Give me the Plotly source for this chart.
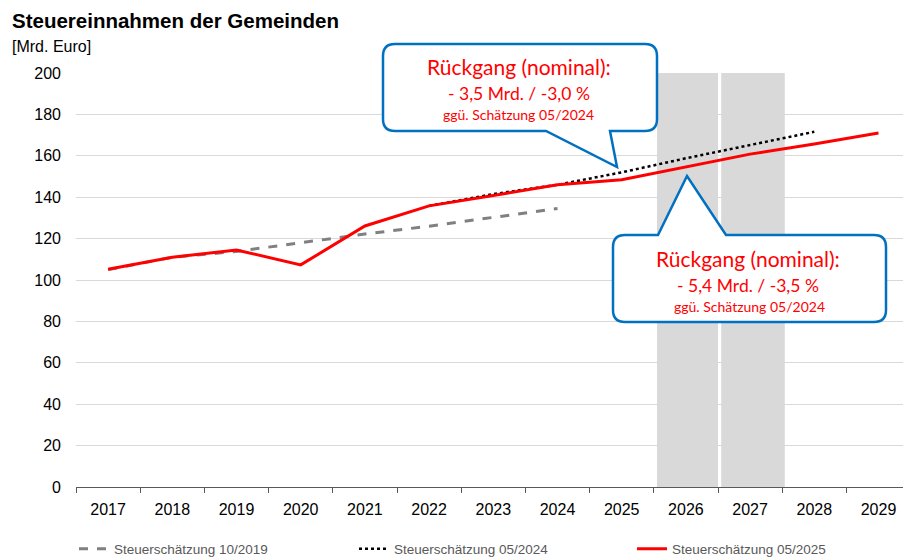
import plotly.graph_objects as go

years = ["2017", "2018", "2019", "2020", "2021", "2022", "2023",
         "2024", "2025", "2026", "2027", "2028", "2029"]

years_1019 = years[:8]
vals_1019 = [105.0, 111.0, 113.8, 118.0, 122.2, 126.0, 130.3, 134.5]

years_0524 = years[5:12]
vals_0524 = [135.8, 141.5, 146.0, 152.0, 158.8, 165.2, 171.6]

vals_0525 = [105.2, 111.0, 114.5, 107.3, 126.1, 135.8, 140.8,
             146.0, 148.4, 154.5, 160.8, 165.7, 171.0]

y_ticks = [0, 20, 40, 60, 80, 100, 120, 140, 160, 180, 200]

W, H = 903, 558
ML, MR, MT, MB = 76, 0, 73, 71
PW, PH = W - ML - MR, H - MT - MB
CAT_W = 64.2


def px(x):
    return (x - ML) / PW


def py(y):
    return (H - MB - y) / PH


fig = go.Figure()

fig.add_trace(go.Scatter(
    x=years_1019, y=vals_1019, mode="lines", name="Steuerschätzung 10/2019",
    line=dict(color="#808080", width=3, dash="dash"), legend="legend"))
fig.add_trace(go.Scatter(
    x=years_0524, y=vals_0524, mode="lines", name="Steuerschätzung 05/2024",
    line=dict(color="#000000", width=2.5, dash="dot"), legend="legend2"))
fig.add_trace(go.Scatter(
    x=years, y=vals_0525, mode="lines", name="Steuerschätzung 05/2025",
    line=dict(color="#FF0000", width=3), legend="legend3"))

# forecast bands
for x0, x1 in [(8.55, 9.5), (9.55, 10.54)]:
    fig.add_shape(type="rect", xref="x", yref="y", x0=x0, x1=x1, y0=0, y1=200,
                  fillcolor="#D9D9D9", line=dict(width=0), layer="between")


def callout(left, top, right, bottom, tail, r=12, tail_top=False):
    (bx0, tipx, tipy, bx1) = tail
    if not tail_top:
        d = (f"M {px(left + r)} {py(top)} L {px(right - r)} {py(top)} "
             f"Q {px(right)} {py(top)} {px(right)} {py(top + r)} "
             f"L {px(right)} {py(bottom - r)} "
             f"Q {px(right)} {py(bottom)} {px(right - r)} {py(bottom)} "
             f"L {px(bx1)} {py(bottom)} L {px(tipx)} {py(tipy)} L {px(bx0)} {py(bottom)} "
             f"L {px(left + r)} {py(bottom)} "
             f"Q {px(left)} {py(bottom)} {px(left)} {py(bottom - r)} "
             f"L {px(left)} {py(top + r)} "
             f"Q {px(left)} {py(top)} {px(left + r)} {py(top)} Z")
    else:
        d = (f"M {px(left + r)} {py(top)} L {px(bx0)} {py(top)} L {px(tipx)} {py(tipy)} "
             f"L {px(bx1)} {py(top)} L {px(right - r)} {py(top)} "
             f"Q {px(right)} {py(top)} {px(right)} {py(top + r)} "
             f"L {px(right)} {py(bottom - r)} "
             f"Q {px(right)} {py(bottom)} {px(right - r)} {py(bottom)} "
             f"L {px(left + r)} {py(bottom)} "
             f"Q {px(left)} {py(bottom)} {px(left)} {py(bottom - r)} "
             f"L {px(left)} {py(top + r)} "
             f"Q {px(left)} {py(top)} {px(left + r)} {py(top)} Z")
    fig.add_shape(type="path", xref="paper", yref="paper", path=d,
                  fillcolor="white", line=dict(color="#0070C0", width=2.5),
                  layer="above")


callout(383, 44, 657, 131, (546, 617, 167, 610))
callout(613, 235, 886, 322, (658, 687, 176, 726), tail_top=True)

CF = "Lato, 'Open Sans', sans-serif"
texts = [
    ("Rückgang (nominal):", 519, 67, 21),
    ("- 3,5 Mrd. / -3,0 %", 519, 93, 17.5),
    ("ggü. Schätzung 05/2024", 518, 114, 14),
    ("Rückgang (nominal):", 748, 258, 21),
    ("- 5,4 Mrd. / -3,5 %", 748, 285, 17.5),
    ("ggü. Schätzung 05/2024", 749, 306, 14),
]
for t, x, y, s in texts:
    fig.add_annotation(text=t, xref="paper", yref="paper", x=px(x), y=py(y),
                       xanchor="center", yanchor="middle", showarrow=False,
                       font=dict(family=CF, size=s, color="#FF0000"))

fig.add_annotation(text="<b>Steuereinnahmen der Gemeinden</b>", xref="paper", yref="paper",
                   x=px(10), y=py(20), xanchor="left", yanchor="middle", showarrow=False,
                   font=dict(family="Liberation Sans, Arial", size=20.5, color="#000000"))
fig.add_annotation(text="[Mrd. Euro]", xref="paper", yref="paper",
                   x=px(10), y=py(47), xanchor="left", yanchor="middle", showarrow=False,
                   font=dict(family="Liberation Sans, Arial", size=16, color="#000000"))

leg_common = dict(orientation="h", yanchor="middle", y=py(549), xanchor="left",
                  font=dict(family="Liberation Sans, Arial", size=13.5, color="#595959"),
                  bgcolor="rgba(0,0,0,0)")

fig.update_layout(
    width=W, height=H,
    margin=dict(l=ML, r=MR, t=MT, b=MB, autoexpand=False),
    paper_bgcolor="white", plot_bgcolor="white",
    font=dict(family="Liberation Sans, Arial", size=16, color="#000000"),
    showlegend=True,
    legend=dict(x=px(74), **leg_common),
    legend2=dict(x=px(354), **leg_common),
    legend3=dict(x=px(632), **leg_common),
)
fig.update_xaxes(
    type="category", categoryorder="array", categoryarray=years,
    range=[-0.5, -0.5 + PW / CAT_W],
    showgrid=False, showline=True, linecolor="#595959", linewidth=1,
    ticks="outside", tickson="boundaries", ticklen=5, tickcolor="#595959",
    ticklabelstandoff=8,
    tickfont=dict(size=16, color="#000000"),
)
fig.update_yaxes(
    range=[0, 200], tickvals=y_ticks, showgrid=True, gridcolor="#D9D9D9",
    gridwidth=1, zeroline=False, showline=False, ticks="",
    ticklabelstandoff=14,
    tickfont=dict(size=16, color="#000000"),
)

fig.write_html("out.html")
